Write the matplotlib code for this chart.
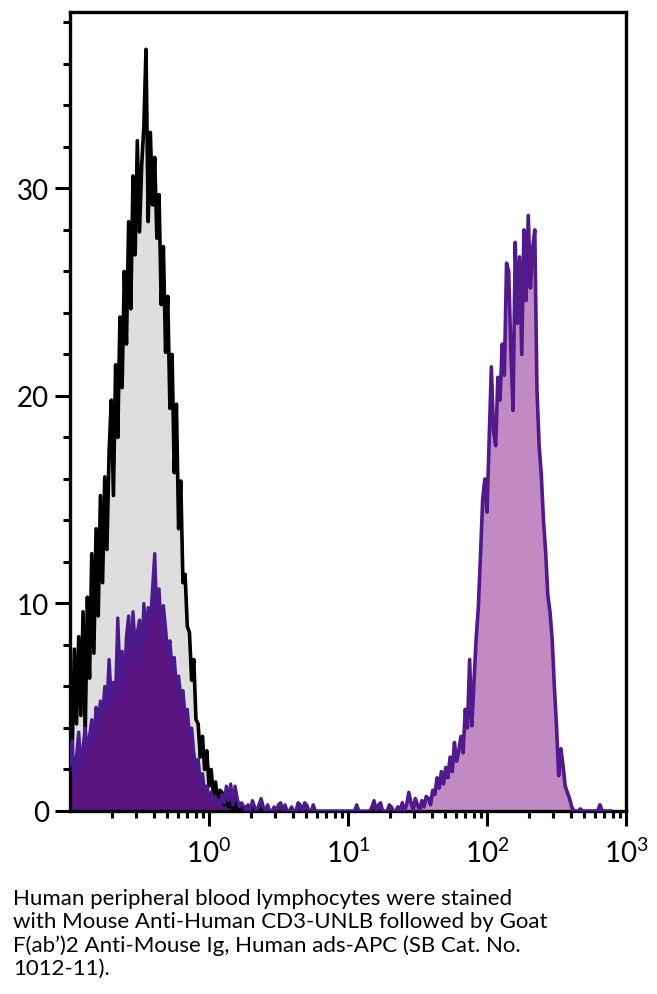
import numpy as np
import matplotlib
matplotlib.use("Agg")
import matplotlib.pyplot as plt
from matplotlib.ticker import FixedLocator, FuncFormatter

# 256 log channels spread over 4 decades (0.1 .. 1000), 64 channels per decade
CH_PER_DECADE = 64
LOG_MIN = -1

# isotype / control histogram (grey fill, black outline), starting at channel 0
iso_counts = [
    6.5, 2.8, 7.8, 4.2, 8.4, 4.6, 9.6, 3.6, 10.3, 6.4,
    12.4, 7.6, 13.6, 9.4, 15.2, 11.0, 16.1, 12.6, 17.3, 19.8,
    15.2, 21.5, 18.0, 23.8, 20.4, 26.0, 22.5, 28.4, 24.2, 30.6,
    26.8, 32.3, 27.9, 31.1, 33.0, 36.7, 28.4, 32.7, 29.2, 31.5,
    27.6, 29.7, 24.4, 27.2, 22.1, 24.8, 19.4, 22.0, 16.3, 19.6,
    13.6, 15.9, 11.0, 11.4, 8.9, 8.6, 6.3, 7.3, 4.4, 4.2,
    2.6, 3.6, 2.0, 2.9, 1.2, 2.0, 0.8, 1.4, 0.5, 1.0,
    0.9, 0.3, 0.6, 0.2, 0.5, 0.0, 0.4, 0.2, 0.0, 0.3,
    0.0, 0.2, 0.0, 0.0, 0.3, 0.0, 0.0, 0.2, 0.0, 0.0,
]

# stained sample, CD3- population (dark purple), starting at channel 0
neg_counts = [
    2.2, 3.4, 1.5, 2.6, 3.8, 2.0, 3.1, 4.0, 2.9, 3.6,
    4.4, 3.3, 5.0, 4.1, 5.3, 4.6, 6.0, 5.1, 7.3, 5.4,
    6.2, 5.6, 9.3, 6.5, 7.7, 6.1, 8.4, 9.4, 7.0, 9.6,
    7.9, 8.6, 9.2, 7.4, 10.0, 8.3, 9.8, 9.0, 10.7, 12.4,
    9.4, 10.7, 8.6, 9.9, 8.8, 7.6, 8.2, 6.9, 7.4, 6.0,
    6.5, 5.5, 5.8, 4.6, 4.9, 3.7, 4.0, 2.8, 2.1, 2.5,
    1.4, 1.8, 0.9, 1.2, 0.6, 0.9, 0.4, 0.7, 0.5, 0.3,
    0.8, 0.4, 1.2, 0.5, 1.3, 0.3, 1.2, 0.6, 0.2, 0.4,
    0.2, 0.0, 0.3, 0.0, 0.5, 0.2, 0.0, 0.3, 0.6, 0.2,
    0.0, 0.3, 0.0, 0.0, 0.2, 0.0, 0.3, 0.4, 0.0, 0.3,
    0.0, 0.0, 0.2, 0.0, 0.0, 0.4, 0.3, 0.0, 0.4, 0.3,
    0.0, 0.0, 0.3, 0.0, 0.0, 0.0, 0.0, 0.0, 0.0, 0.0,
    0.0, 0.0, 0.0, 0.0, 0.0, 0.0, 0.0, 0.0, 0.0, 0.0,
    0.0, 0.0, 0.3, 0.0, 0.0, 0.0, 0.0, 0.0, 0.0, 0.2,
    0.5, 0.0, 0.3, 0.4, 0.0, 0.0, 0.0, 0.3, 0.2, 0.0,
]

# stained sample, CD3+ population (light purple), starting at channel 150
pos_start = 150
pos_counts = [
    0.0, 0.2, 0.0, 0.4, 0.0, 0.3, 0.9, 0.4, 0.0, 0.6,
    0.3, 0.0, 0.5, 0.2, 0.7, 0.6, 0.3, 1.0, 0.8, 1.6,
    1.1, 1.9, 1.3, 2.1, 1.6, 2.6, 1.9, 3.3, 2.4, 2.9,
    3.6, 2.8, 4.9, 4.0, 7.3, 4.1, 6.2, 8.3, 9.8, 12.3,
    15.0, 16.0, 14.4, 17.9, 21.4, 18.3, 17.6, 20.9, 19.8, 22.5,
    21.0, 26.4, 26.0, 22.1, 19.3, 27.4, 23.5, 26.7, 22.0, 28.0,
    24.6, 28.7, 25.2, 27.1, 28.0, 20.3, 17.6, 16.2, 14.0, 12.5,
    10.4, 9.6, 8.3, 6.0, 4.1, 1.7, 3.0, 2.2, 1.2, 0.9,
    0.6, 0.2, 0.0, 0.0, 0.0, 0.1, 0.0, 0.0, 0.0, 0.0,
    0.0, 0.0, 0.0, 0.0, 0.3, 0.0, 0.0, 0.0, 0.0, 0.0,
]

x_major = [1, 10, 100, 1000]
y_major = [0, 10, 20, 30]
caption = ("Human peripheral blood lymphocytes were stained\n"
           "with Mouse Anti-Human CD3-UNLB followed by Goat\n"
           "F(ab\u2019)2 Anti-Mouse Ig, Human ads-APC (SB Cat. No.\n"
           "1012-11).")

FONT = "Lato"
plt.rcParams['font.family'] = [FONT, 'DejaVu Sans']
plt.rcParams['mathtext.fontset'] = 'custom'
plt.rcParams['mathtext.rm'] = FONT


def chan_to_x(start, n):
    ch = np.arange(start, start + n)
    return 10.0 ** (LOG_MIN + ch / CH_PER_DECADE)


fig = plt.figure(figsize=(6.57, 9.95), dpi=100)
ax = fig.add_axes([70 / 657, 1 - 812 / 995, (626 - 70) / 657, (812 - 13) / 995])

x_iso = chan_to_x(0, len(iso_counts))
x_neg = chan_to_x(0, len(neg_counts))
x_pos = chan_to_x(pos_start, len(pos_counts))

# control: grey fill, black outline
ax.fill_between(x_iso, 0, iso_counts, color='#dedede', lw=0, zorder=1)
ax.plot(x_iso, iso_counts, color='black', lw=2.6, zorder=3)

# stained: dark CD3- population, light CD3+ population
ax.fill_between(x_neg, 0, neg_counts, color='#5a1580', lw=0, zorder=2)
ax.plot(x_neg, neg_counts, color='#4b1a8e', lw=2.4, zorder=4)
ax.fill_between(x_pos, 0, pos_counts, color='#c28ac2', lw=0, zorder=2)
ax.plot(x_pos, pos_counts, color='#52198c', lw=2.6, zorder=4)

ax.set_xscale('log')
ax.set_xlim(0.1, 1000)
ax.set_ylim(0, 38.5)

ax.xaxis.set_major_locator(FixedLocator(x_major))
minors = [m * 10.0 ** k for k in range(-1, 3) for m in range(2, 10)]
ax.xaxis.set_minor_locator(FixedLocator(minors))
ax.xaxis.set_major_formatter(FuncFormatter(
    lambda v, p: r'$\mathregular{10^{%d}}$' % int(round(np.log10(v)))))
ax.xaxis.set_minor_formatter(FuncFormatter(lambda v, p: ''))

ax.yaxis.set_major_locator(FixedLocator(y_major))
ax.yaxis.set_minor_locator(FixedLocator(np.arange(2, 39, 2)))

for s in ax.spines.values():
    s.set_linewidth(2.4)
ax.tick_params(which='major', direction='out', length=11, width=2.2,
               labelsize=20, pad=4)
ax.tick_params(which='minor', direction='out', length=5, width=2.2)
ax.tick_params(axis='x', which='major', pad=8)

fig.text(13 / 657, 1 - 889 / 995, caption, ha='left', va='top',
         fontsize=16, linespacing=1.2)

fig.savefig('out.png', dpi=100)
